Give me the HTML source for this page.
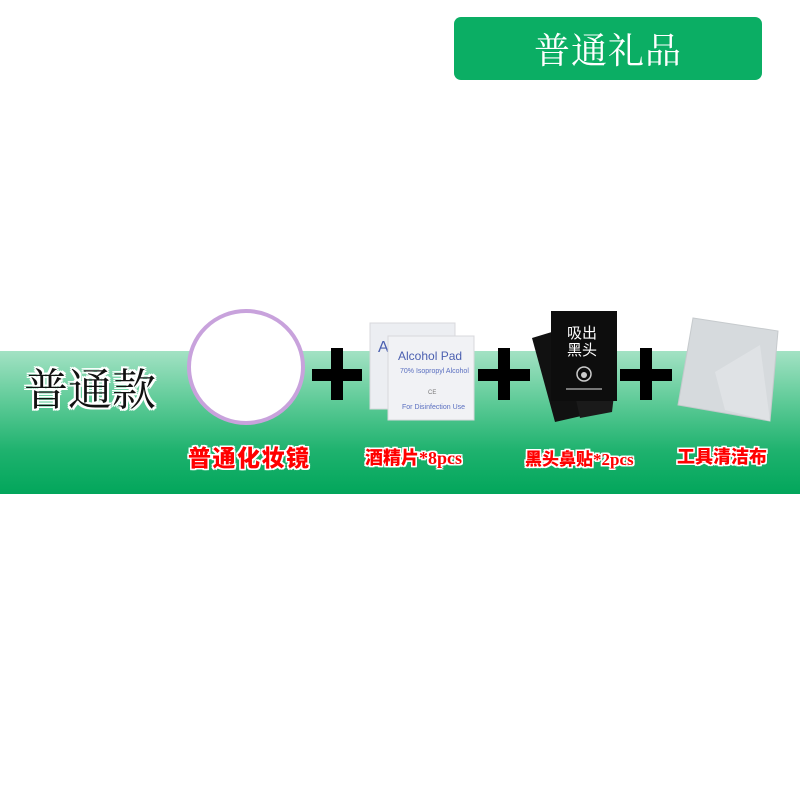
<!DOCTYPE html>
<html><head><meta charset="utf-8"><style>
html,body{margin:0;padding:0;width:800px;height:800px;background:#fff;overflow:hidden;position:relative;font-family:"Liberation Sans","Noto Sans CJK SC",sans-serif}
.band{position:absolute;left:0;top:351px;width:800px;height:143px;background:linear-gradient(#a3e2c4 0%,#5fcb98 35%,#1eb26e 70%,#02a65b 100%)}
.btn{position:absolute;left:454px;top:17px;width:308px;height:63px;background:#0bae64;border-radius:7px;color:#fff;font-family:"Noto Serif CJK SC",serif;font-size:36px;line-height:63px;text-align:center;letter-spacing:1px}
.lbl{position:absolute;top:440px;color:#f00;font-weight:900;font-family:"Liberation Serif","Noto Sans CJK SC",sans-serif;font-size:21px;white-space:nowrap;
text-shadow:-1.5px 0 #fff,1.5px 0 #fff,0 -1.5px #fff,0 1.5px #fff,-1.5px -1.5px #fff,1.5px 1.5px #fff,-1.5px 1.5px #fff,1.5px -1.5px #fff}
.big{position:absolute;left:24px;top:360px;font-family:"Noto Serif CJK SC",serif;font-size:44px;color:#111;line-height:52px;
text-shadow:-2px 0 #fff,2px 0 #fff,0 -2px #fff,0 2px #fff,-2px -2px #fff,2px 2px #fff,-2px 2px #fff,2px -2px #fff}
svg{position:absolute;left:0;top:0}
</style></head><body>
<div class="btn">普通礼品</div>
<div class="band"></div>
<svg width="800" height="800" viewBox="0 0 800 800">
<ellipse cx="246" cy="367" rx="57" ry="56" fill="#fff" stroke="#c8a2dc" stroke-width="4"/>
<g fill="#000">
<rect x="312" y="369" width="50" height="12"/><rect x="331" y="348" width="12" height="52"/>
<rect x="478" y="369" width="52" height="12"/><rect x="498" y="348" width="12" height="52"/>
<rect x="620" y="369" width="52" height="12"/><rect x="640" y="348" width="12" height="52"/>
</g>
<rect x="370" y="323" width="85" height="86" fill="#eceef2" stroke="#d8d8dc"/>
<text x="378" y="352" font-size="16" fill="#4a5fb0" font-family="Liberation Sans">Al</text>
<rect x="388" y="336" width="86" height="84" fill="#f1f2f5" stroke="#d8d8dc"/>
<text x="398" y="360" font-size="12" fill="#4a5fb0" font-family="Liberation Sans">Alcohol Pad</text>
<text x="400" y="373" font-size="7" fill="#5a6fc0" font-family="Liberation Sans">70% Isopropyl Alcohol</text>
<text x="428" y="394" font-size="6" fill="#777" font-family="Liberation Sans">CE</text>
<text x="402" y="409" font-size="7" fill="#5a6fc0" font-family="Liberation Sans">For Disinfection Use</text>
<polygon points="532,338 565,328 590,414 555,422" fill="#111"/>
<polygon points="575,395 614,395 612,412 580,418" fill="#1a1a1a"/>
<rect x="551" y="311" width="66" height="90" fill="#0d0d0d"/>
<text x="567" y="338" font-size="15" fill="#fff" font-family="Noto Sans CJK SC">吸出</text>
<text x="567" y="355" font-size="15" fill="#fff" font-family="Noto Sans CJK SC">黑头</text>
<circle cx="584" cy="374" r="7" fill="none" stroke="#ccc" stroke-width="1.5"/>
<circle cx="584" cy="375" r="3" fill="#ccc"/>
<rect x="566" y="388" width="36" height="2" fill="#777"/>
<polygon points="693,318 778,331 770,421 678,405" fill="#d6dadd" stroke="#c6cacd"/>
<polygon points="715,372 760,345 770,421 725,410" fill="#dfe2e5"/>
</svg>
<div class="big">普通款</div>
<div class="lbl" style="left:188px;font-size:23px;letter-spacing:1.5px;top:439px">普通化妆镜</div>
<div class="lbl" style="left:365px;font-size:18px;top:444px">酒精片*8pcs</div>
<div class="lbl" style="left:525px;font-size:17px;top:445px">黑头鼻贴*2pcs</div>
<div class="lbl" style="left:677px;font-size:18px;top:443px">工具清洁布</div>
</body></html>
